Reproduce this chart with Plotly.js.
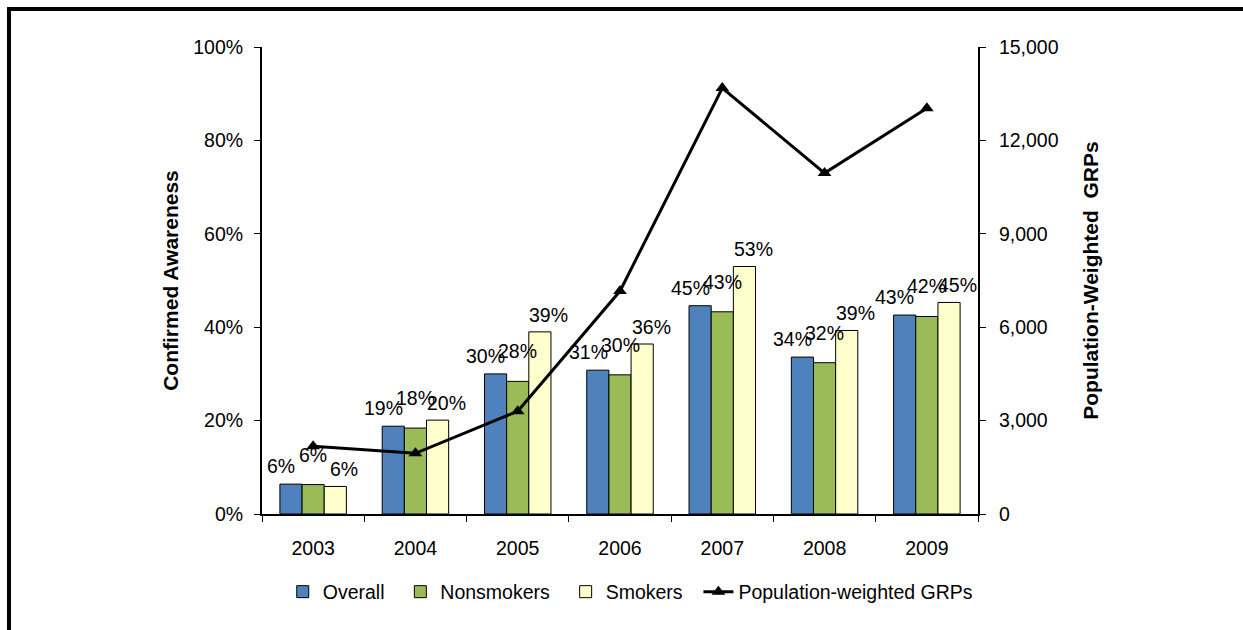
<!DOCTYPE html>
<html>
<head>
<meta charset="utf-8">
<script src="https://cdn.plot.ly/plotly-3.0.1.min.js"></script>
<style>
html,body{margin:0;padding:0;background:#fff;}
#wrap{position:relative;width:1243px;height:630px;overflow:hidden;}
#chart{position:absolute;left:0;top:0;width:1243px;height:630px;}
#frame{position:absolute;left:7px;top:7px;width:1300px;height:700px;border-left:4px solid #000;border-top:4px solid #000;pointer-events:none;}
</style>
</head>
<body>
<div id="wrap"><div id="chart"></div><div id="frame"></div></div>
<script>
var years = ['2003','2004','2005','2006','2007','2008','2009'];
var overall = [6.4, 18.8, 30.0, 30.8, 44.6, 33.6, 42.6];
var nonsmokers = [6.3, 18.4, 28.4, 29.8, 43.3, 32.4, 42.3];
var smokers = [5.9, 20.1, 39.0, 36.4, 53.0, 39.3, 45.3];
var grps = [2180, 1950, 3300, 7160, 13680, 10950, 13030];
var seriesNames = ['Overall', 'Nonsmokers', 'Smokers', 'Population-weighted GRPs'];

var font = 'Liberation Sans, Arial, sans-serif';
var pad = '\u00a0\u00a0';
var barColors = ['#4F81BD', '#9BBB59', '#FFFFCC'];
var barSeries = [overall, nonsmokers, smokers];

function barTrace(name, vals, color){
  return {
    type:'bar', name:name + pad, x:years, y:vals,
    marker:{color:color, line:{color:'#000', width:1}},
    hoverinfo:'skip'
  };
}
var traces = [];
for (var i = 0; i < 3; i++) traces.push(barTrace(seriesNames[i], barSeries[i], barColors[i]));
traces.push({type:'scatter', mode:'lines+markers', name:seriesNames[3], x:years, y:grps, yaxis:'y2',
   line:{color:'#000', width:3}, marker:{symbol:'triangle-up', size:12, color:'#000'}, hoverinfo:'skip'});

// data labels: placed at each bar's value (category index on the x axis), staggered per series like the original
var labelStyle = [{dx:-32, dy:5}, {dx:0, dy:17}, {dx:31, dy:4}];
var annotations = [];
for (var s = 0; s < 3; s++) {
  for (var k = 0; k < years.length; k++) {
    annotations.push({
      x:k, y:barSeries[s][k], xref:'x', yref:'y',
      text:Math.round(barSeries[s][k]) + '%', showarrow:false,
      xanchor:'center', yanchor:'bottom',
      xshift:labelStyle[s].dx, yshift:labelStyle[s].dy,
      font:{family:font, size:19.5, color:'#000'}
    });
  }
}

var layout = {
  width:1243, height:630,
  margin:{l:262, r:265, t:47, b:116},
  paper_bgcolor:'#fff', plot_bgcolor:'#fff',
  font:{family:font, size:19.5, color:'#000'},
  barmode:'group', bargap:0.35, bargroupgap:0,
  showlegend:true,
  legend:{orientation:'h', x:0.515, xanchor:'center', y:-0.167, yanchor:'middle',
          font:{family:font, size:19.5, color:'#000'}, traceorder:'normal'},
  annotations:annotations,
  xaxis:{type:'category', categoryorder:'array', categoryarray:years, range:[-0.5, years.length - 0.5],
         showline:true, linecolor:'#000', linewidth:2, ticks:'outside', tickson:'boundaries',
         ticklen:6, tickcolor:'#000', tickwidth:1, showgrid:false, zeroline:false, ticklabelstandoff:16,
         tickfont:{family:font, size:19.5, color:'#000'}},
  yaxis:{range:[0,100], dtick:20, ticksuffix:'%', showline:true, linecolor:'#000', linewidth:2,
         ticks:'outside', ticklen:6, tickcolor:'#000', showgrid:false, zeroline:false, ticklabelstandoff:7,
         tickfont:{family:font, size:19.5, color:'#000'},
         title:{text:'<b>Confirmed Awareness</b>', font:{family:font, size:21, color:'#000'}, standoff:9}},
  yaxis2:{range:[0,15000], dtick:3000, tickformat:',d', overlaying:'y', side:'right', showline:true,
          linecolor:'#000', linewidth:2, ticks:'outside', ticklen:6, tickcolor:'#000', showgrid:false, zeroline:false,
          ticklabelstandoff:9,
          tickfont:{family:font, size:19.5, color:'#000'},
          title:{text:'<b>Population-Weighted\u00a0 GRPs</b>', font:{family:font, size:21, color:'#000'}, standoff:26}}
};
Plotly.newPlot('chart', traces, layout, {displayModeBar:false, staticPlot:true});
</script>
</body>
</html>
